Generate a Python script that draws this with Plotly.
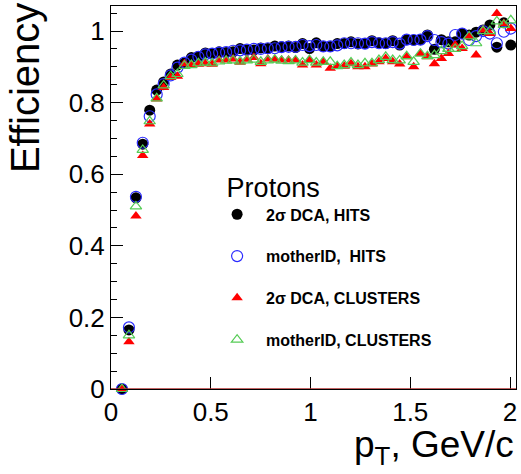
import plotly.graph_objects as go

pt = [0.055, 0.090, 0.125, 0.159, 0.194, 0.229, 0.264, 0.299, 0.333, 0.368,
      0.403, 0.438, 0.473, 0.507, 0.542, 0.577, 0.612, 0.647, 0.681, 0.716,
      0.751, 0.786, 0.821, 0.855, 0.890, 0.925, 0.960, 0.995, 1.029, 1.064,
      1.099, 1.134, 1.169, 1.203, 1.238, 1.273, 1.308, 1.343, 1.377, 1.412,
      1.447, 1.482, 1.517, 1.551, 1.586, 1.621, 1.656, 1.691, 1.725, 1.760,
      1.795, 1.830, 1.865, 1.899, 1.934, 1.969, 2.004]

dca_hits = [0.0, 0.165, 0.534, 0.684, 0.779, 0.835, 0.858, 0.880, 0.905, 0.911,
            0.926, 0.929, 0.939, 0.937, 0.942, 0.940, 0.942, 0.951, 0.947, 0.947,
            0.953, 0.951, 0.958, 0.956, 0.958, 0.954, 0.965, 0.951, 0.967, 0.957,
            0.957, 0.965, 0.965, 0.970, 0.964, 0.965, 0.973, 0.967, 0.965, 0.973,
            0.961, 0.976, 0.975, 0.976, 0.989, 0.949, 0.976, 0.970, 0.970, 0.993,
            0.989, 0.997, 1.003, 1.017, 0.955, 1.023, 0.961]

mother_hits = [0.0, 0.172, 0.537, 0.688, 0.762, 0.823, 0.852, 0.876, 0.898, 0.912,
               0.920, 0.928, 0.935, 0.937, 0.940, 0.941, 0.945, 0.946, 0.948, 0.950,
               0.950, 0.952, 0.952, 0.955, 0.956, 0.956, 0.961, 0.958, 0.961, 0.957,
               0.957, 0.960, 0.966, 0.966, 0.966, 0.965, 0.969, 0.966, 0.966, 0.969,
               0.965, 0.976, 0.975, 0.976, 0.986, 0.975, 0.969, 0.965, 0.989, 0.993,
               0.975, 0.986, 1.000, 0.993, 0.966, 0.998, 1.007]

dca_clusters = [0.0, 0.132, 0.483, 0.652, 0.740, 0.810, 0.842, 0.870, 0.874, 0.909,
                0.905, 0.907, 0.909, 0.907, 0.919, 0.919, 0.922, 0.913, 0.921, 0.926,
                0.909, 0.922, 0.921, 0.919, 0.919, 0.919, 0.905, 0.919, 0.905, 0.914,
                0.896, 0.902, 0.902, 0.909, 0.900, 0.900, 0.908, 0.914, 0.923, 0.914,
                0.908, 0.928, 0.900, 0.937, 0.928, 0.909, 0.923, 0.937, 0.961, 0.951,
                0.985, 0.933, 1.003, 0.993, 1.049, 1.021, 1.007]

mother_clusters = [0.0, 0.150, 0.510, 0.668, 0.748, 0.812, 0.848, 0.874, 0.880, 0.903,
                   0.905, 0.910, 0.912, 0.910, 0.915, 0.917, 0.918, 0.915, 0.918, 0.920,
                   0.914, 0.918, 0.920, 0.917, 0.916, 0.918, 0.912, 0.919, 0.912, 0.914,
                   0.914, 0.902, 0.905, 0.912, 0.905, 0.910, 0.910, 0.919, 0.928, 0.919,
                   0.918, 0.930, 0.914, 0.937, 0.930, 0.933, 0.944, 0.950, 0.950, 0.958,
                   0.985, 0.966, 1.000, 1.000, 1.027, 1.017, 1.030]

series_names = ["&nbsp;&nbsp;<b>2σ DCA, HITS</b>", "&nbsp;&nbsp;<b>motherID,&nbsp; HITS</b>",
                "&nbsp;&nbsp;<b>2σ DCA, CLUSTERS</b>", "&nbsp;&nbsp;<b>motherID, CLUSTERS</b>"]

y_ticks = [0, 0.2, 0.4, 0.6, 0.8, 1]
y_tick_text = ["0", "0.2", "0.4", "0.6", "0.8", "1"]
x_ticks = [0, 0.5, 1, 1.5, 2]
x_tick_text = ["0", "0.5", "1", "1.5", "2"]

FONT = "Liberation Sans, Arial, sans-serif"

fig = go.Figure()

styles = [
    dict(symbol="circle", size=11, color="black", line=dict(width=0)),
    dict(symbol="circle-open", size=11, color="#2a2aff", line=dict(width=1.2)),
    dict(symbol="triangle-up", size=10, color="#ff0000", line=dict(width=0)),
    dict(symbol="triangle-up-open", size=10, color="#55cc55", line=dict(width=1.2)),
]
for name, ys, st, g in zip(series_names,
                           [dca_hits, mother_hits, dca_clusters, mother_clusters],
                           styles, ["a", "b", "c", "d"]):
    fig.add_trace(go.Scatter(x=pt, y=ys, mode="markers", name=name,
                             marker=st, cliponaxis=False, legendgroup=g))

fig.add_shape(type="line", xref="paper", yref="y", x0=0, x1=1, y0=0, y1=0,
              line=dict(color="#b03030", width=1.5))

axis_font = dict(family=FONT, size=26, color="black")

fig.update_layout(
    width=521, height=474,
    margin=dict(l=111, r=5, t=6, b=85),
    paper_bgcolor="white", plot_bgcolor="white",
    font=dict(family=FONT, color="black"),
    showlegend=True,
    legend=dict(
        x=0.262, y=0.592, xanchor="left", yanchor="top",
        bgcolor="rgba(0,0,0,0)",
        font=dict(size=16, family=FONT, color="black"),
        title=dict(text="&nbsp;Protons", font=dict(size=27, family=FONT), side="top"),
        tracegroupgap=18,
        itemwidth=30,
    ),
    xaxis=dict(
        range=[0, 2.03], showgrid=False, zeroline=False,
        showline=True, mirror=True, linecolor="black", linewidth=1,
        ticks="inside", ticklen=12, tickwidth=1, tickcolor="black",
        tickvals=x_ticks, ticktext=x_tick_text, tickfont=axis_font,
    ),
    yaxis=dict(
        range=[0, 1.07], showgrid=False, zeroline=False,
        showline=True, mirror=True, linecolor="black", linewidth=1,
        ticks="inside", ticklen=12, tickwidth=1, tickcolor="black",
        tickvals=y_ticks, ticktext=y_tick_text, tickfont=axis_font,
        minor=dict(dtick=0.05, ticks="inside", ticklen=6, tickcolor="black", tickwidth=1),
    ),
    annotations=[
        dict(text="Efficiency", xref="paper", yref="paper", x=-0.212, y=0.786,
             xanchor="center", yanchor="middle", textangle=-90, showarrow=False,
             font=dict(size=40, family=FONT, color="black")),
        dict(text="p<sub>T</sub>, GeV/c", xref="paper", yref="paper", x=1.0, y=-0.085,
             xanchor="right", yanchor="top", showarrow=False,
             font=dict(size=37, family=FONT, color="black")),
    ],
)

fig.write_html("out.html")
